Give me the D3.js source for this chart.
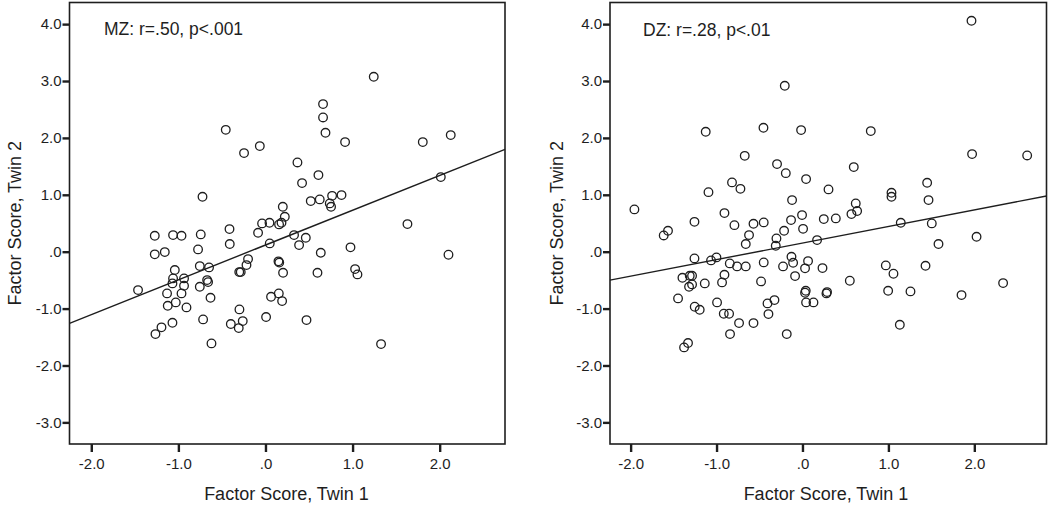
<!DOCTYPE html>
<html><head><meta charset="utf-8">
<script src="https://cdn.jsdelivr.net/npm/d3@7"></script>
<style>
html,body{margin:0;padding:0;background:#fff;}
svg{display:block;font-family:"Liberation Sans",Arial,sans-serif;}
</style></head>
<body><svg id="chart" width="1050" height="508"></svg>
<script>
// ---------- data ----------
const xTickValues = [-2, -1, 0, 1, 2];
const xTickLabels = ["-2.0", "-1.0", ".0", "1.0", "2.0"];
const yTickValues = [-3, -2, -1, 0, 1, 2, 3, 4];
const yTickLabels = ["-3.0", "-2.0", "-1.0", ".0", "1.0", "2.0", "3.0", "4.0"];
const xTitle = "Factor Score, Twin 1";
const yTitle = "Factor Score, Twin 2";

const mzLabel = "MZ: r=.50, p<.001";
const mzTwin1 = [-1.463,-1.271,-1.271,-1.263,-1.194,-1.156,-1.130,-1.122,-1.068,-1.068,-1.061,-1.061,-1.041,-1.030,-0.964,-0.964,-0.935,-0.935,-0.907,-0.774,-0.754,-0.754,-0.743,-0.723,-0.716,-0.670,-0.659,-0.648,-0.631,-0.620,-0.456,-0.413,-0.410,-0.398,-0.307,-0.299,-0.301,-0.284,-0.261,-0.246,-0.218,-0.200,-0.085,-0.065,-0.039,0.007,0.046,0.049,0.064,0.149,0.158,0.153,0.156,0.184,0.191,0.199,0.202,0.222,0.328,0.367,0.386,0.420,0.463,0.471,0.520,0.597,0.608,0.623,0.635,0.661,0.661,0.689,0.738,0.753,0.765,0.873,0.914,0.976,1.029,1.056,1.243,1.327,1.630,1.806,2.013,2.101,2.127];
const mzTwin2 = [-0.675,0.279,-0.047,-1.448,-1.330,-0.007,-0.733,-0.951,-0.557,-1.250,0.292,-0.469,-0.323,-0.891,0.279,-0.733,-0.469,-0.599,-0.979,0.040,-0.253,-0.617,0.304,0.965,-1.190,-0.499,-0.534,-0.276,-0.810,-1.612,2.142,0.397,0.134,-1.272,-1.343,-1.014,-0.359,-0.359,-1.220,1.733,-0.236,-0.130,0.332,1.856,0.497,-1.149,0.508,0.146,-0.793,-0.170,-0.192,-0.733,0.480,0.508,-0.868,0.789,-0.371,0.613,0.292,1.569,0.116,1.206,0.244,-1.202,0.889,-0.371,1.346,0.919,-0.019,2.594,2.360,2.090,0.849,0.789,0.982,0.995,1.926,0.076,-0.306,-0.399,3.074,-1.624,0.485,1.926,1.311,-0.054,2.049];
const mzFit = {intercept: 0.117, slope: 0.612};

const dzLabel = "DZ: r=.28, p<.01";
const dzTwin1 = [-1.956,-1.615,-1.565,-1.448,-1.397,-1.378,-1.332,-1.320,-1.312,-1.285,-1.285,-1.257,-1.257,-1.254,-1.196,-1.137,-1.126,-1.094,-1.064,-1.001,-0.994,-0.936,-0.916,-0.908,-0.908,-0.854,-0.846,-0.843,-0.820,-0.792,-0.761,-0.738,-0.722,-0.672,-0.660,-0.660,-0.622,-0.570,-0.570,-0.482,-0.454,-0.451,-0.451,-0.407,-0.396,-0.326,-0.311,-0.303,-0.296,-0.226,-0.214,-0.206,-0.194,-0.183,-0.133,-0.128,-0.121,-0.109,-0.086,-0.016,-0.005,0.007,0.030,0.038,0.030,0.042,0.042,0.065,0.128,0.170,0.233,0.248,0.286,0.279,0.303,0.388,0.551,0.570,0.597,0.620,0.636,0.795,0.970,0.997,1.036,1.036,1.059,1.133,1.144,1.257,1.432,1.451,1.467,1.505,1.583,1.851,1.967,1.974,2.026,2.335,2.615];
const dzTwin2 = [0.743,0.286,0.367,-0.821,-0.459,-1.682,-1.606,-0.617,-0.424,-0.424,-0.575,0.525,-0.118,-0.968,-1.021,-0.557,2.107,1.047,-0.153,-0.100,-0.891,-0.540,-1.091,0.678,-0.406,-1.091,-0.206,-1.448,1.218,0.467,-0.258,-1.255,1.105,1.685,0.134,-0.258,0.292,0.490,-1.255,-0.522,2.178,0.515,-0.188,-0.909,-1.097,-0.851,0.104,0.234,1.540,-0.258,0.367,2.916,1.381,-1.448,0.555,-0.090,0.907,-0.195,-0.429,2.137,0.643,0.402,-0.293,-0.687,-0.722,1.276,-0.891,-0.165,-0.891,0.204,-0.288,0.573,-0.710,-0.733,1.095,0.585,-0.511,0.661,1.487,0.849,0.714,2.120,-0.241,-0.687,1.035,0.965,-0.388,-1.285,0.508,-0.698,-0.248,1.211,0.907,0.497,0.134,-0.763,4.058,1.715,0.262,-0.552,1.692];
const dzFit = {intercept: 0.152, slope: 0.291};

// ---------- layout ----------
const ink = "#1e1e1e";
const svg = d3.select("#chart");
const yDomain = [-3.38, 4.38];

const panels = [
  {label: mzLabel, xs: mzTwin1, ys: mzTwin2, fit: mzFit,
   xDomain: [-2.25, 2.75], left: 69.5, right: 505, top: 2.5, bottom: 444,
   labelX: 104, labelY: 35, yTitleX: 21, xTitleX: 286.5},
  {label: dzLabel, xs: dzTwin1, ys: dzTwin2, fit: dzFit,
   xDomain: [-2.24, 2.84], left: 610, right: 1046.5, top: 2.5, bottom: 444,
   labelX: 643, labelY: 36, yTitleX: 563, xTitleX: 826}
];

panels.forEach(p => {
  const x = d3.scaleLinear().domain(p.xDomain).range([p.left, p.right]);
  const y = d3.scaleLinear().domain(yDomain).range([p.bottom, p.top]);
  const g = svg.append("g");

  // frame
  g.append("rect")
    .attr("x", p.left).attr("y", p.top)
    .attr("width", p.right - p.left).attr("height", p.bottom - p.top)
    .attr("fill", "#fff").attr("stroke", ink).attr("stroke-width", 1.6);

  // axes
  const yAxis = d3.axisLeft(y).tickValues(yTickValues).tickSize(7).tickPadding(1)
    .tickFormat((d, i) => yTickLabels[i]);
  const xAxis = d3.axisBottom(x).tickValues(xTickValues).tickSize(8).tickPadding(6)
    .tickFormat((d, i) => xTickLabels[i]);

  const ya = g.append("g").attr("transform", `translate(${p.left},0)`).call(yAxis);
  const xa = g.append("g").attr("transform", `translate(0,${p.bottom})`).call(xAxis);
  [ya, xa].forEach(a => {
    a.select(".domain").remove();
    a.selectAll(".tick line").attr("stroke", ink).attr("stroke-width", 2.4);
    a.selectAll(".tick text").attr("fill", ink).style("font-size", "15px")
      .style("font-family", '"Liberation Sans", Arial, sans-serif');
  });

  // regression line
  g.append("line")
    .attr("x1", x(p.xDomain[0])).attr("y1", y(p.fit.intercept + p.fit.slope * p.xDomain[0]))
    .attr("x2", x(p.xDomain[1])).attr("y2", y(p.fit.intercept + p.fit.slope * p.xDomain[1]))
    .attr("stroke", ink).attr("stroke-width", 1.4);

  // points
  g.append("g").selectAll("circle")
    .data(p.xs.map((v, i) => [v, p.ys[i]]))
    .join("circle")
    .attr("cx", d => x(d[0])).attr("cy", d => y(d[1]))
    .attr("r", 4.3)
    .attr("fill", "none").attr("stroke", ink).attr("stroke-width", 1.3);

  // annotation
  g.append("text").attr("x", p.labelX).attr("y", p.labelY)
    .attr("fill", ink).style("font-size", "17.5px").text(p.label);

  // titles
  g.append("text").attr("x", p.xTitleX).attr("y", 500).attr("text-anchor", "middle")
    .attr("fill", ink).style("font-size", "18px").text(xTitle);
  g.append("text")
    .attr("transform", `translate(${p.yTitleX},${(p.top + p.bottom) / 2}) rotate(-90)`)
    .attr("text-anchor", "middle").attr("fill", ink).style("font-size", "18px").text(yTitle);
});
</script>
</body></html>
